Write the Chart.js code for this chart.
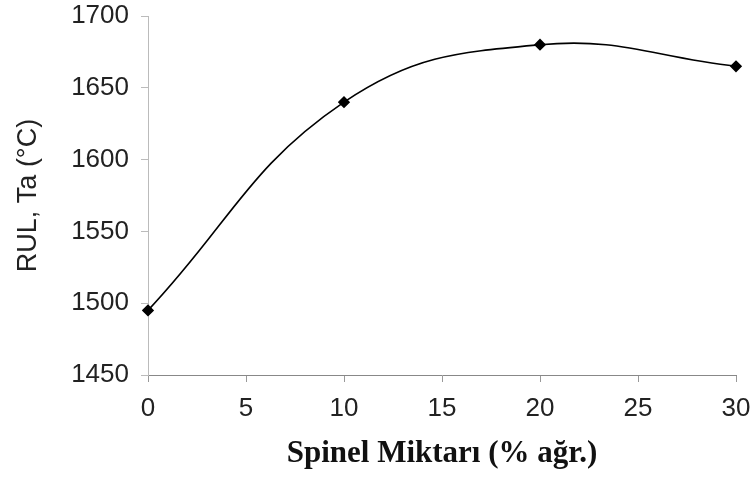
<!DOCTYPE html>
<html><head><meta charset="utf-8">
<script src="https://cdn.jsdelivr.net/npm/chart.js@4/dist/chart.umd.min.js"></script>
<style>html,body{margin:0;padding:0;background:#fff}#wrap{width:753px;height:479px}</style>
</head><body><div id="wrap"><canvas id="c" width="753" height="479"></canvas></div>
<script>
const spinel = [0, 10, 20, 30];
const rul = [1495, 1640, 1680, 1665];
const xTicks = [0, 5, 10, 15, 20, 25, 30];
const yTicks = [1450, 1500, 1550, 1600, 1650, 1700];
const xTitle = 'Spinel Miktarı (% ağr.)';
const yTitle = 'RUL, Ta (°C)';

const pts = spinel.map((x, i) => ({x: x, y: rul[i]}));
new Chart(document.getElementById('c'), {
  type: 'line',
  data: { datasets: [{
    data: pts, borderColor: '#000', borderWidth: 1.6, tension: 0.42, clip: false,
    pointStyle: 'rectRot', pointRadius: 5, pointBackgroundColor: '#000', pointBorderColor: '#000', fill: false
  }]},
  options: {
    responsive: false, animation: false, devicePixelRatio: 1,
    layout: { padding: { top: 16, right: 17, left: 0, bottom: 0 } },
    plugins: { legend: { display: false }, tooltip: { enabled: false } },
    scales: {
      x: {
        type: 'linear', min: 0, max: 30,
        afterBuildTicks: s => { s.ticks = xTicks.map(v => ({value: v})); },
        afterFit: s => { s.height = 104; s.paddingLeft = 0; s.paddingRight = 0; },
        grid: { drawOnChartArea: false, drawTicks: true, tickLength: 7, color: '#999' },
        border: { color: '#888', width: 1 },
        ticks: { color: '#222', font: { family: 'Liberation Sans', size: 26 }, padding: 11, maxRotation: 0, callback: v => String(v) },
        title: { display: true, text: xTitle, color: '#111', font: { family: 'Liberation Serif', size: 31, weight: 'bold' }, padding: { top: 0, bottom: 6 } }
      },
      y: {
        min: 1450, max: 1700,
        afterBuildTicks: s => { s.ticks = yTicks.map(v => ({value: v})); },
        afterFit: s => { s.width = 148; s.paddingTop = 0; s.paddingBottom = 0; },
        grid: { drawOnChartArea: false, drawTicks: true, tickLength: 7, color: '#bbb' },
        border: { color: '#bbb', width: 1 },
        ticks: { color: '#222', font: { family: 'Liberation Sans', size: 26 }, padding: 12, callback: v => String(v) },
        title: { display: true, text: yTitle, color: '#222', font: { family: 'Liberation Sans', size: 27 }, padding: { top: 12, bottom: 0 } }
      }
    }
  }
});
</script></body></html>
